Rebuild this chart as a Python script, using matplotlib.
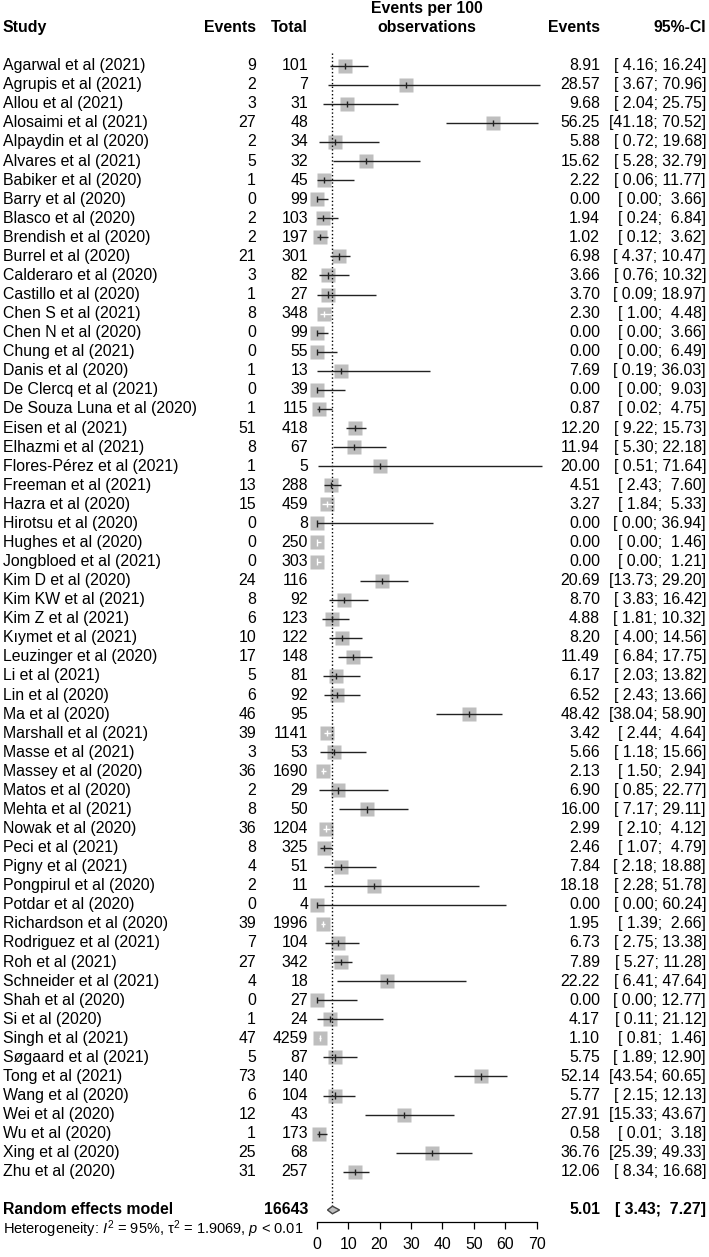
import matplotlib.pyplot as plt
import matplotlib.transforms as mtransforms

plt.rcParams['font.family'] = ['Liberation Sans', 'DejaVu Sans']
plt.rcParams['mathtext.fontset'] = 'custom'
plt.rcParams['mathtext.rm'] = 'Liberation Sans'
plt.rcParams['mathtext.it'] = 'Liberation Sans:italic'

# study data (events per 100 observations)
studies = [
    "Agarwal et al (2021)", "Agrupis et al (2021)", "Allou et al (2021)",
    "Alosaimi et al (2021)", "Alpaydin et al (2020)", "Alvares et al (2021)",
    "Babiker et al (2020)", "Barry et al (2020)", "Blasco et al (2020)",
    "Brendish et al (2020)", "Burrel et al (2020)", "Calderaro et al (2020)",
    "Castillo et al (2020)", "Chen S et al (2021)", "Chen N et al (2020)",
    "Chung et al (2021)", "Danis et al (2020)", "De Clercq et al (2021)",
    "De Souza Luna et al (2020)", "Eisen et al (2021)", "Elhazmi et al (2021)",
    "Flores-Pérez et al (2021)", "Freeman et al (2021)", "Hazra et al (2020)",
    "Hirotsu et al (2020)", "Hughes et al (2020)", "Jongbloed et al (2021)",
    "Kim D et al (2020)", "Kim KW et al (2021)", "Kim Z et al (2021)",
    "Kıymet et al (2021)", "Leuzinger et al (2020)", "Li et al (2021)",
    "Lin et al (2020)", "Ma et al (2020)", "Marshall et al (2021)",
    "Masse et al (2021)", "Massey et al (2020)", "Matos et al (2020)",
    "Mehta et al (2021)", "Nowak et al (2020)", "Peci et al (2021)",
    "Pigny et al (2021)", "Pongpirul et al (2020)", "Potdar et al (2020)",
    "Richardson et al (2020)", "Rodriguez et al (2021)", "Roh et al (2021)",
    "Schneider et al (2021)", "Shah et al (2020)", "Si et al (2020)",
    "Singh et al (2021)", "Søgaard et al (2021)", "Tong et al (2021)",
    "Wang et al (2020)", "Wei et al (2020)", "Wu et al (2020)",
    "Xing et al (2020)", "Zhu et al (2020)",
]
events = [9, 2, 3, 27, 2, 5, 1, 0, 2, 2, 21, 3, 1, 8, 0, 0, 1, 0, 1, 51, 8, 1,
          13, 15, 0, 0, 0, 24, 8, 6, 10, 17, 5, 6, 46, 39, 3, 36, 2, 8, 36, 8,
          4, 2, 0, 39, 7, 27, 4, 0, 1, 47, 5, 73, 6, 12, 1, 25, 31]
totals = [101, 7, 31, 48, 34, 32, 45, 99, 103, 197, 301, 82, 27, 348, 99, 55,
          13, 39, 115, 418, 67, 5, 288, 459, 8, 250, 303, 116, 92, 123, 122,
          148, 81, 92, 95, 1141, 53, 1690, 29, 50, 1204, 325, 51, 11, 4, 1996,
          104, 342, 18, 27, 24, 4259, 87, 140, 104, 43, 173, 68, 257]
rate = [8.91, 28.57, 9.68, 56.25, 5.88, 15.62, 2.22, 0.00, 1.94, 1.02, 6.98,
        3.66, 3.70, 2.30, 0.00, 0.00, 7.69, 0.00, 0.87, 12.20, 11.94, 20.00,
        4.51, 3.27, 0.00, 0.00, 0.00, 20.69, 8.70, 4.88, 8.20, 11.49, 6.17,
        6.52, 48.42, 3.42, 5.66, 2.13, 6.90, 16.00, 2.99, 2.46, 7.84, 18.18,
        0.00, 1.95, 6.73, 7.89, 22.22, 0.00, 4.17, 1.10, 5.75, 52.14, 5.77,
        27.91, 0.58, 36.76, 12.06]
ci_low = [4.16, 3.67, 2.04, 41.18, 0.72, 5.28, 0.06, 0.00, 0.24, 0.12, 4.37,
          0.76, 0.09, 1.00, 0.00, 0.00, 0.19, 0.00, 0.02, 9.22, 5.30, 0.51,
          2.43, 1.84, 0.00, 0.00, 0.00, 13.73, 3.83, 1.81, 4.00, 6.84, 2.03,
          2.43, 38.04, 2.44, 1.18, 1.50, 0.85, 7.17, 2.10, 1.07, 2.18, 2.28,
          0.00, 1.39, 2.75, 5.27, 6.41, 0.00, 0.11, 0.81, 1.89, 43.54, 2.15,
          15.33, 0.01, 25.39, 8.34]
ci_high = [16.24, 70.96, 25.75, 70.52, 19.68, 32.79, 11.77, 3.66, 6.84, 3.62,
           10.47, 10.32, 18.97, 4.48, 3.66, 6.49, 36.03, 9.03, 4.75, 15.73,
           22.18, 71.64, 7.60, 5.33, 36.94, 1.46, 1.21, 29.20, 16.42, 10.32,
           14.56, 17.75, 13.82, 13.66, 58.90, 4.64, 15.66, 2.94, 22.77, 29.11,
           4.12, 4.79, 18.88, 51.78, 60.24, 2.66, 13.38, 11.28, 47.64, 12.77,
           21.12, 1.46, 12.90, 60.65, 12.13, 43.67, 3.18, 49.33, 16.68]

pooled_total = 16643
pooled_rate = 5.01
pooled_low = 3.43
pooled_high = 7.27
x_ticks = [0, 10, 20, 30, 40, 50, 60, 70]

W, H = 709, 1257
FS = 11.4
fig = plt.figure(figsize=(W / 100, H / 100), dpi=100)
ax = fig.add_axes([316.7 / W, 35 / H, 220 / W, 1222 / H])
ax.set_xlim(0, 70)
ax.set_ylim(60.63, -3.445)

rows = list(range(len(studies)))
half_sq = 2.27  # half width of the study squares in data units

# CI lines, squares and estimate ticks
colors = []
for r, est, lo, hi in zip(rows, rate, ci_low, ci_high):
    inside = lo >= est - half_sq and hi <= est + half_sq
    colors.append('white' if inside else '#222222')
ax.plot(rate, rows, 's', ms=10.3, color='#bebebe', mec='none',
        clip_on=False, zorder=2)
ax.hlines(rows, ci_low, ci_high, colors=colors, lw=1.0, zorder=3, clip_on=False)
ax.scatter(rate, rows, marker='|', s=20, c=colors, linewidths=1.0,
           zorder=4, clip_on=False)

# pooled estimate
ax.vlines(pooled_rate, -0.67, 59.8, colors='black', linestyles=':', lw=1.0)
ax.fill([pooled_low, pooled_rate, pooled_high, pooled_rate],
        [60, 59.8, 60, 60.2], facecolor='#bebebe', edgecolor='#444444',
        lw=1.0, zorder=3, clip_on=False)

# axis
for s in ['left', 'top', 'right']:
    ax.spines[s].set_visible(False)
ax.spines['bottom'].set_linewidth(0.9)
ax.set_yticks([])
ax.set_xticks(x_ticks)
ax.tick_params(axis='x', length=5, width=0.9, pad=6, labelsize=FS)
ax.patch.set_visible(False)

# text columns
ty = mtransforms.blended_transform_factory(fig.transFigure, ax.transData)
ta = mtransforms.blended_transform_factory(ax.transAxes, ax.transData)
x_study, x_ev, x_tot, x_est, x_ci = 3 / W, 256 / W, 308 / W, 600 / W, 706 / W

hdr = dict(transform=ty, va='center', fontsize=FS, fontweight='bold')
ax.text(x_study, -2, "Study", ha='left', **hdr)
ax.text(x_ev, -2, "Events", ha='right', **hdr)
ax.text(x_tot, -2, "Total", ha='right', **hdr)
ax.text(x_est, -2, "Events", ha='right', **hdr)
ax.text(x_ci, -2, "95%-CI", ha='right', **hdr)
ax.text(0.5, -3, "Events per 100", transform=ta, ha='center', va='center',
        fontsize=FS, fontweight='bold')
ax.text(0.5, -2, "observations", transform=ta, ha='center', va='center',
        fontsize=FS, fontweight='bold')

for r, name, ev, n, est, lo, hi in zip(rows, studies, events, totals,
                                       rate, ci_low, ci_high):
    ax.text(x_study, r, name, transform=ty, ha='left', va='center', fontsize=FS)
    ax.text(x_ev, r, str(ev), transform=ty, ha='right', va='center', fontsize=FS)
    ax.text(x_tot, r, str(n), transform=ty, ha='right', va='center', fontsize=FS)
    ax.text(x_est, r, f"{est:.2f}", transform=ty, ha='right', va='center',
            fontsize=FS)
    ax.text(x_ci, r, f"[{lo:5.2f}; {hi:5.2f}]", transform=ty, ha='right',
            va='center', fontsize=FS)

bold = dict(transform=ty, va='center', fontsize=FS, fontweight='bold')
ax.text(x_study, 60, "Random effects model", ha='left', **bold)
ax.text(x_tot, 60, str(pooled_total), ha='right', **bold)
ax.text(x_est, 60, f"{pooled_rate:.2f}", ha='right', **bold)
ax.text(x_ci, 60, f"[{pooled_low:5.2f}; {pooled_high:5.2f}]", ha='right', **bold)
ax.text(x_study, 61, "Heterogeneity: $I^2$ = 95%, τ$^2$ = 1.9069, $p$ < 0.01",
        transform=ty, ha='left', va='center', fontsize=10.5, clip_on=False)

fig.savefig("out.png", dpi=100)
